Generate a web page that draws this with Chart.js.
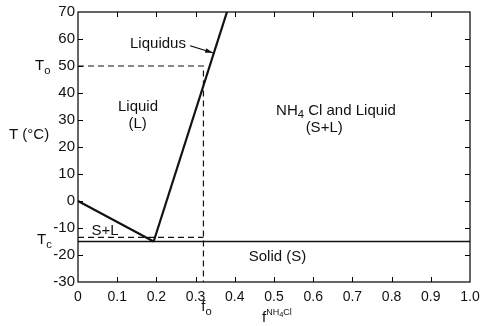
<!DOCTYPE html>
<html><head><meta charset="utf-8">
<script src="https://cdn.jsdelivr.net/npm/chart.js@4"></script>
<style>html,body{margin:0;padding:0;background:#fff}#wrap{width:487px;height:326px}</style>
</head><body><div id="wrap"><canvas id="c" width="487" height="326"></canvas></div>
<script>
// Data
const liquidusX = [0.193, 0.38];
const liquidusT = [-15, 70];
const leftLineX = [0, 0.193];
const leftLineT = [0, -15];
const eutecticX = [0, 1];
const eutecticT = [-15, -15];
const t0DashX = [0, 0.32, 0.32];
const t0DashT = [50, 50, -30];
const tcDashX = [0, 0.32];
const tcDashT = [-13.5, -13.5];
const xTicks = [0, 0.1, 0.2, 0.3, 0.4, 0.5, 0.6, 0.7, 0.8, 0.9, 1.0];
const yTicks = [-30, -20, -10, 0, 10, 20, 30, 40, 50, 60, 70];

const pts = (xs, ys) => xs.map((v, i) => ({x: v, y: ys[i]}));
const FONT = '"Liberation Sans", Arial, Helvetica, sans-serif';

// mode: '' normal, 'sub', 'sup', 'supsub' (subscript inside superscript)
const MODES = {
  '':      {s: 1,    dy: 0},
  'sub':   {s: 0.75, dy: 0.32},
  'sup':   {s: 0.6,  dy: -0.38},
  'supsub':{s: 0.5,  dy: -0.22}
};
function richText(ctx, parts, x, y, align, size) {
  let w = 0;
  const meas = parts.map(([t, m]) => {
    ctx.font = (size * MODES[m].s) + 'px ' + FONT;
    const mw = ctx.measureText(t).width;
    w += mw;
    return mw;
  });
  let cx = align === 'center' ? x - w / 2 : (align === 'right' ? x - w : x);
  ctx.textAlign = 'left';
  ctx.textBaseline = 'middle';
  parts.forEach(([t, m], i) => {
    ctx.font = (size * MODES[m].s) + 'px ' + FONT;
    ctx.fillText(t, cx, y + size * MODES[m].dy);
    cx += meas[i];
  });
}

const annotations = [
  {parts: [['Liquidus', '']], x: 0.204, y: 58.2},
  {parts: [['Liquid', '']], x: 0.153, y: 35},
  {parts: [['(L)', '']], x: 0.152, y: 28.6},
  {parts: [['NH', ''], ['4', 'sub'], [' Cl and Liquid', '']], x: 0.658, y: 33.5},
  {parts: [['(S+L)', '']], x: 0.628, y: 27.2},
  {parts: [['S+L', '']], x: 0.069, y: -11.2},
  {parts: [['Solid (S)', '']], x: 0.509, y: -20.8}
];

const deco = {
  id: 'deco',
  afterDraw(chart) {
    const {ctx, chartArea: a, scales: {x, y}} = chart;
    ctx.save();
    ctx.strokeStyle = '#000';
    ctx.fillStyle = '#111';
    // frame
    ctx.lineWidth = 1.2;
    ctx.strokeRect(a.left, a.top, a.right - a.left, a.bottom - a.top);
    // inward ticks
    ctx.lineWidth = 1;
    ctx.beginPath();
    xTicks.slice(1, -1).forEach(v => {
      const px = Math.round(x.getPixelForValue(v)) + 0.5;
      ctx.moveTo(px, a.bottom); ctx.lineTo(px, a.bottom - 5);
      ctx.moveTo(px, a.top); ctx.lineTo(px, a.top + 5);
    });
    yTicks.slice(1, -1).forEach(v => {
      const py = Math.round(y.getPixelForValue(v)) + 0.5;
      ctx.moveTo(a.left, py); ctx.lineTo(a.left + 5, py);
      ctx.moveTo(a.right, py); ctx.lineTo(a.right - 5, py);
    });
    ctx.stroke();
    // annotations
    annotations.forEach(an => {
      richText(ctx, an.parts, x.getPixelForValue(an.x), y.getPixelForValue(an.y), 'center', 15);
    });
    // Liquidus arrow
    const x1 = x.getPixelForValue(0.286), y1 = y.getPixelForValue(57.5);
    const x2 = x.getPixelForValue(0.344), y2 = y.getPixelForValue(54.9);
    ctx.lineWidth = 1.2;
    ctx.beginPath(); ctx.moveTo(x1, y1); ctx.lineTo(x2, y2); ctx.stroke();
    const ang = Math.atan2(y2 - y1, x2 - x1);
    ctx.beginPath();
    ctx.moveTo(x2, y2);
    ctx.lineTo(x2 - 8 * Math.cos(ang - 0.3), y2 - 8 * Math.sin(ang - 0.3));
    ctx.lineTo(x2 - 8 * Math.cos(ang + 0.3), y2 - 8 * Math.sin(ang + 0.3));
    ctx.closePath(); ctx.fill();
    // axis side labels
    richText(ctx, [['T', ''], ['o', 'sub']], 35, y.getPixelForValue(50), 'left', 15);
    richText(ctx, [['T', ''], ['c', 'sub']], 37, y.getPixelForValue(-14.5), 'left', 15);
    richText(ctx, [['T (°C)', '']], 9, 135, 'left', 15);
    richText(ctx, [['f', ''], ['o', 'sub']], x.getPixelForValue(0.32) + 3, 307, 'center', 15);
    richText(ctx, [['f', ''], ['NH', 'sup'], ['4', 'supsub'], ['Cl', 'sup']], 262, 318, 'left', 15);
    ctx.restore();
  }
};

const lineDs = (data, width, dash) => ({
  data, showLine: true, pointRadius: 0, borderColor: '#111', borderWidth: width,
  borderDash: dash || [], fill: false, tension: 0
});

new Chart(document.getElementById('c'), {
  type: 'scatter',
  data: {
    datasets: [
      lineDs(pts(t0DashX, t0DashT), 1.2, [6, 4]),
      lineDs(pts(tcDashX, tcDashT), 1.2, [6, 4]),
      lineDs(pts(eutecticX, eutecticT), 1.6),
      lineDs(pts(leftLineX, leftLineT), 2.2),
      lineDs(pts(liquidusX, liquidusT), 2.2)
    ]
  },
  options: {
    responsive: false,
    animation: false,
    events: [],
    layout: {padding: {left: 0, right: 17, top: 11, bottom: 0}},
    plugins: {legend: {display: false}, tooltip: {enabled: false}},
    scales: {
      x: {
        type: 'linear', min: 0, max: 1,
        afterFit(s) { s.height = 44; },
        afterBuildTicks(s) { s.ticks = xTicks.map(v => ({value: v})); },
        grid: {display: false, drawTicks: false},
        border: {display: false},
        ticks: {color: '#111', font: {size: 14, family: FONT}, padding: 7, maxRotation: 0,
          callback: v => v === 0 ? '0' : v.toFixed(1)}
      },
      y: {
        type: 'linear', min: -30, max: 70,
        afterFit(s) { s.width = 78; },
        afterBuildTicks(s) { s.ticks = yTicks.map(v => ({value: v})); },
        grid: {display: false, drawTicks: false},
        border: {display: false},
        ticks: {color: '#111', font: {size: 15, family: FONT}, padding: 3,
          callback: v => String(v)}
      }
    }
  },
  plugins: [deco]
});
</script></body></html>
